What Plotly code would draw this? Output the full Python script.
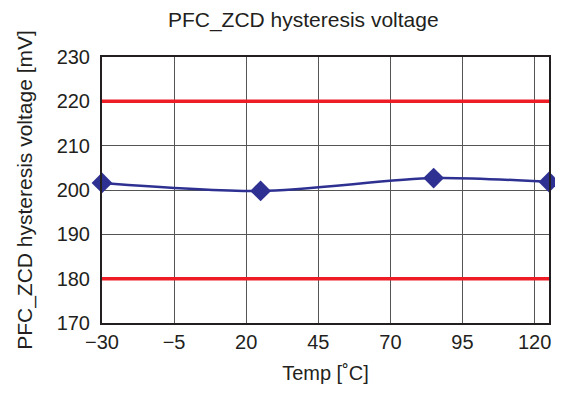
import plotly.graph_objects as go

temps = [-30, 25, 85, 125]
hyst_mv = [201.6, 199.8, 202.7, 201.8]
upper_limit = 220
lower_limit = 180
x_ticks = [-30, -5, 20, 45, 70, 95, 120]
x_tick_labels = ["\u221230", "\u22125", "20", "45", "70", "95", "120"]
y_ticks = [170, 180, 190, 200, 210, 220, 230]
x_range = [-30, 125]
y_range = [170, 230]

FONT = "Liberation Sans, Arial, Helvetica, sans-serif"

fig = go.Figure()
for lim in (upper_limit, lower_limit):
    fig.add_trace(go.Scatter(x=x_range, y=[lim, lim], mode="lines",
                             line=dict(color="#EE1C25", width=3.5),
                             showlegend=False, hoverinfo="skip", cliponaxis=False))
fig.add_trace(go.Scatter(x=temps, y=hyst_mv, mode="lines+markers",
                         line=dict(color="#2E3192", width=2.5, shape="spline", smoothing=0.8),
                         marker=dict(symbol="diamond", size=16, color="#2E3192"),
                         showlegend=False, cliponaxis=False))

fig.update_layout(
    width=555, height=386,
    margin=dict(l=94, r=14, t=49, b=71),
    paper_bgcolor="white", plot_bgcolor="white",
    font=dict(family=FONT, size=20, color="#231F20"),
    title=dict(text="PFC_ZCD hysteresis voltage", x=0.532, xanchor="center",
               y=0.969, yanchor="middle", font=dict(size=21, family=FONT)),
)
fig.update_xaxes(range=x_range, tickvals=x_ticks, ticktext=x_tick_labels,
                 showgrid=True, gridcolor="#555555", gridwidth=1,
                 showline=True, linecolor="#231F20", linewidth=2, mirror=True,
                 ticks="", zeroline=False, automargin=False, ticklabelstandoff=0,
                 title=dict(text="Temp [\u02daC]", font=dict(size=20), standoff=14))
fig.update_yaxes(range=y_range, tickvals=y_ticks,
                 showgrid=True, gridcolor="#555555", gridwidth=1,
                 showline=True, linecolor="#231F20", linewidth=2, mirror=True,
                 ticks="", zeroline=False, ticklabelstandoff=6, automargin=False,
                 title=dict(text="PFC_ZCD hysteresis voltage [mV]", font=dict(size=21), standoff=18))

fig.write_html("out.html")
